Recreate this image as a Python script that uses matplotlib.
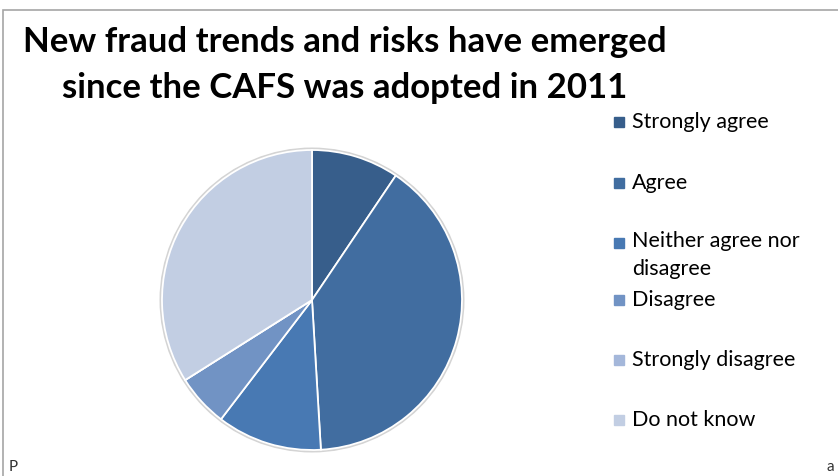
import matplotlib.pyplot as plt
from matplotlib.patches import Rectangle, Circle

# survey responses (counts)
labels = ['Strongly agree', 'Agree', 'Neither agree nor\ndisagree',
          'Disagree', 'Strongly disagree', 'Do not know']
counts = [5, 21, 6, 3, 0, 18]
colors = ['#375e8b', '#416da0', '#4879b3', '#7193c4', '#a4b7da', '#c2cee3']

title = 'New fraud trends and risks have emerged\nsince the CAFS was adopted in 2011'

plt.rcParams['font.family'] = ['Lato', 'DejaVu Sans']

W, H = 838, 476
fig = plt.figure(figsize=(W / 100, H / 100), dpi=100)

# chart area frame
fig.patches.append(Rectangle((3 / W, -0.1), 2, (H - 10) / H + 0.1,
                             transform=fig.transFigure, fill=False,
                             edgecolor='#a6a6a6', linewidth=1.2))

fig.text(345 / W, 1 - 65 / H, title, ha='center', va='center',
         fontsize=25, fontweight='bold', linespacing=1.5)

# pie, centred at (312, 300) px with radius 150 px
cx, cy, r = 312, 300, 153
ax = fig.add_axes([(cx - r) / W, (H - cy - r) / H, 2 * r / W, 2 * r / H])
ax.add_patch(Circle((0, 0), 1.012, color='#d4d4d4', zorder=0))
ax.pie(counts, colors=colors, startangle=90, counterclock=False, radius=1,
       wedgeprops=dict(edgecolor='white', linewidth=1.3))
ax.set_xlim(-1.02, 1.02)
ax.set_ylim(-1.02, 1.02)
ax.set_aspect('equal')
ax.axis('off')

# legend
ys = [122, 183, 243, 300, 360, 420]
for lab, col, y in zip(labels, colors, ys):
    fig.patches.append(Rectangle((614 / W, 1 - (y + 5) / H), 10 / W, 10 / H,
                                 transform=fig.transFigure, color=col))
    if '\n' in lab:
        fig.text(632 / W, 1 - (y - 12) / H, lab, ha='left', va='top',
                 fontsize=15.5, linespacing=1.5)
    else:
        fig.text(632 / W, 1 - y / H, lab, ha='left', va='center', fontsize=15.5)

# clipped text at the bottom edge
fig.text(9 / W, 1 - 467 / H, 'P', fontsize=11, color='#333333', va='center')
fig.text(826 / W, 1 - 467 / H, 'a', fontsize=11, color='#333333', va='center')

fig.savefig('out.png', dpi=100, facecolor='white')
